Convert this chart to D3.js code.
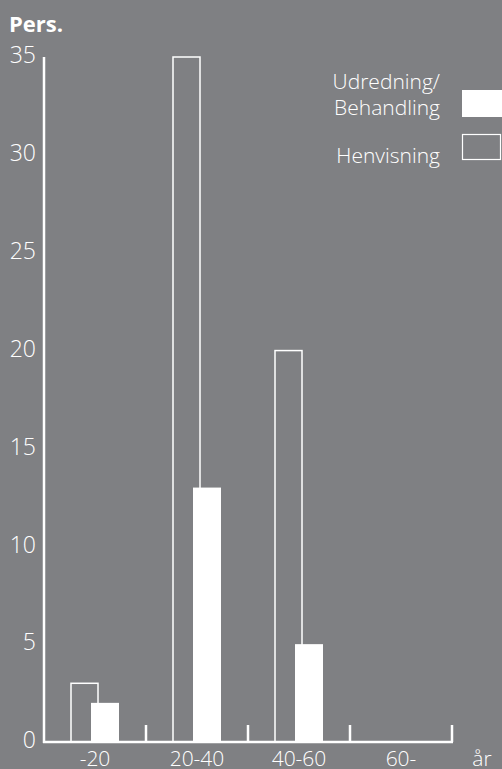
<!DOCTYPE html>
<html>
<head>
<meta charset="utf-8">
<script src="https://cdn.jsdelivr.net/npm/d3@7"></script>
<style>
  html, body { margin: 0; padding: 0; background: #7f8083; }
  text { font-family: "Open Sans", sans-serif; fill: #fff; }
</style>
</head>
<body>
<svg id="chart"></svg>
<script>
const categories = ['-20', '20-40', '40-60', '60-'];
const henvisning = [3, 35, 20, 0];
const udredning = [2, 13, 5, 0];
const yTicks = [0, 5, 10, 15, 20, 25, 30, 35];

const width = 502;
const height = 769;
const svg = d3.select('#chart').attr('width', width).attr('height', height);

svg.append('rect').attr('width', width).attr('height', height).attr('fill', '#7f8083');

const x = d3.scaleBand().domain(categories).range([44, 452]);
const y = d3.scaleLinear().domain([0, 35]).range([742, 57]);

// bars: outline first, filled drawn on top
svg.append('g')
  .selectAll('rect')
  .data(henvisning)
  .enter()
  .append('rect')
  .attr('x', (d, i) => x(categories[i]) + 27)
  .attr('y', d => y(d))
  .attr('width', 27)
  .attr('height', d => y(0) - y(d))
  .style('fill', 'none')
  .style('stroke', d => (d > 0 ? '#fff' : 'none'))
  .style('stroke-width', 1.5);

svg.append('g')
  .selectAll('rect')
  .data(udredning)
  .enter()
  .append('rect')
  .attr('x', (d, i) => x(categories[i]) + 47)
  .attr('y', d => y(d))
  .attr('width', 28)
  .attr('height', d => y(0) - y(d))
  .style('fill', '#fff');

// axes
svg.append('line')
  .attr('x1', 44).attr('x2', 44)
  .attr('y1', y(35)).attr('y2', y(0) + 1)
  .style('stroke', '#fff').style('stroke-width', 2.5);

svg.append('line')
  .attr('x1', 43).attr('x2', 453)
  .attr('y1', y(0)).attr('y2', y(0))
  .style('stroke', '#fff').style('stroke-width', 2.5);

svg.append('g')
  .selectAll('line')
  .data(categories)
  .enter()
  .append('line')
  .attr('x1', d => x(d) + x.bandwidth())
  .attr('x2', d => x(d) + x.bandwidth())
  .attr('y1', y(0) - 17)
  .attr('y2', y(0))
  .style('stroke', '#fff')
  .style('stroke-width', 2.5);

svg.append('g')
  .selectAll('text')
  .data(yTicks)
  .enter()
  .append('text')
  .attr('x', 36)
  .attr('y', d => y(d) - 2)
  .attr('dy', '0.36em')
  .attr('text-anchor', 'end')
  .style('font-size', '23px')
  .style('font-weight', 300)
  .text(d => d);

svg.append('g')
  .selectAll('text')
  .data(categories)
  .enter()
  .append('text')
  .attr('x', d => x(d) + x.bandwidth() / 2)
  .attr('y', 766)
  .attr('text-anchor', 'middle')
  .style('font-size', '21px')
  .style('font-weight', 300)
  .text(d => d);

svg.append('text')
  .attr('x', 482).attr('y', 766)
  .attr('text-anchor', 'middle')
  .style('font-size', '21px')
  .style('font-weight', 300)
  .text('år');

svg.append('text')
  .attr('x', 9).attr('y', 32)
  .style('font-size', '22px')
  .style('font-weight', 700)
  .text('Pers.');

// legend
const legend = svg.append('g');
legend.append('text').attr('x', 440).attr('y', 89).attr('text-anchor', 'end')
  .style('font-size', '21px').style('font-weight', 300).text('Udredning/');
legend.append('text').attr('x', 440).attr('y', 115).attr('text-anchor', 'end')
  .style('font-size', '21px').style('font-weight', 300).text('Behandling');
legend.append('text').attr('x', 440).attr('y', 163).attr('text-anchor', 'end')
  .style('font-size', '21px').style('font-weight', 300).text('Henvisning');
legend.append('rect').attr('x', 462).attr('y', 90).attr('width', 40).attr('height', 27)
  .style('fill', '#fff');
legend.append('rect').attr('x', 462.5).attr('y', 134.5).attr('width', 38).attr('height', 25)
  .style('fill', 'none').style('stroke', '#fff').style('stroke-width', 1.2);
</script>
</body>
</html>
